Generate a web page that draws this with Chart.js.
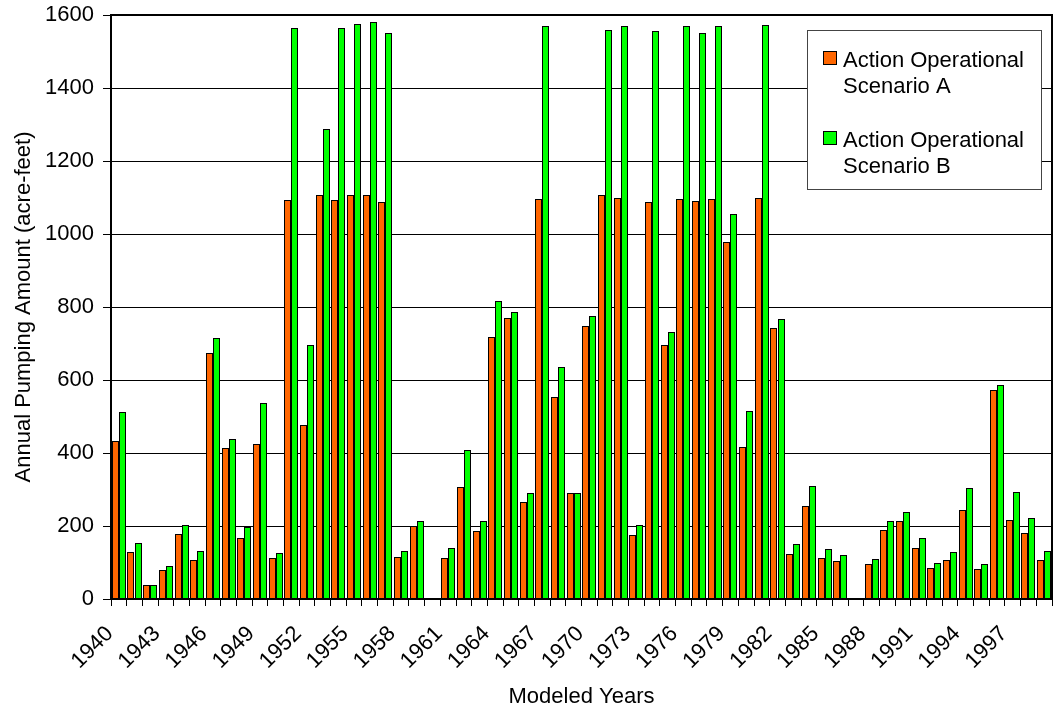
<!DOCTYPE html>
<html>
<head>
<meta charset="utf-8">
<title>Annual Pumping Amount</title>
<script src="https://cdn.jsdelivr.net/npm/chart.js@4.4.1/dist/chart.umd.min.js"></script>
<style>
  html, body { margin: 0; padding: 0; background: #fff; }
  #wrap { width: 1056px; height: 710px; position: relative; }
</style>
</head>
<body>
<div id="wrap"><canvas id="chart" width="1056" height="710"></canvas></div>
<script>
// Modeled years (one bar pair per year)
const years = [
  '1940','1941','1942','1943','1944','1945','1946','1947','1948','1949',
  '1950','1951','1952','1953','1954','1955','1956','1957','1958','1959',
  '1960','1961','1962','1963','1964','1965','1966','1967','1968','1969',
  '1970','1971','1972','1973','1974','1975','1976','1977','1978','1979',
  '1980','1981','1982','1983','1984','1985','1986','1987','1988','1989',
  '1990','1991','1992','1993','1994','1995','1996','1997','1998','1999'
];

// Years that carry a label on the category axis
const labeledYears = [
  '1940','1943','1946','1949','1952','1955','1958','1961','1964','1967',
  '1970','1973','1976','1979','1982','1985','1988','1991','1994','1997'
];

// Annual pumping, acre-feet — Scenario A
const scenarioA = [
  432, 128,  37,  79, 177, 108, 673, 413, 166, 424,
  112,1094, 476,1108,1092,1108,1108,1087, 116, 199,
    0, 113, 306, 186, 718, 769, 265,1096, 553, 291,
  747,1108,1098, 175,1089, 696,1097,1090,1097, 978,
  416,1099, 743, 124, 256, 112, 105,   0,  96, 189,
  213, 141,  85, 106, 245,  83, 573, 217, 182, 108
];

// Annual pumping, acre-feet — Scenario B
const scenarioB = [
  512, 153,  37,  91, 202, 132, 716, 438, 197, 538,
  126,1565, 697,1289,1565,1575,1580,1550, 132, 213,
    0, 139, 408, 213, 816, 786, 291,1570, 635, 291,
  775,1559,1571, 202,1557, 732,1570,1550,1570,1054,
  516,1572, 766, 150, 310, 137, 120,   0, 110, 213,
  239, 166,  98, 130, 303,  97, 587, 293, 222, 131
];

// Legend text, split over two lines per series
const legendLines = [
  ['Action Operational', 'Scenario A'],
  ['Action Operational', 'Scenario B']
];

const seriesColors = ['#FF6600', '#00FF00'];

const FONT = "'Liberation Sans', Arial, Helvetica, sans-serif";
Chart.defaults.font.family = FONT;
Chart.defaults.color = '#000';

// Snap bar edges to whole pixels so every 1px outline renders evenly
const crispBars = {
  id: 'crispBars',
  beforeDatasetsDraw(chart) {
    chart.data.datasets.forEach((ds, i) => {
      chart.getDatasetMeta(i).data.forEach((bar) => {
        const w = Math.round(bar.width);
        const left = Math.round(bar.x - bar.width / 2);
        bar.width = w;
        bar.x = left + w / 2;
        bar.y = Math.round(bar.y);
        bar.base = Math.round(bar.base);
      });
    });
  }
};

// Heavy frame around the plotting area
const plotFrame = {
  id: 'plotFrame',
  afterDatasetsDraw(chart) {
    const { ctx, chartArea: a } = chart;
    ctx.save();
    ctx.strokeStyle = '#000';
    ctx.lineWidth = 2;
    ctx.strokeRect(a.left, a.top, a.right - a.left, a.bottom - a.top);
    ctx.restore();
  }
};

// Boxed legend in the upper right of the plot
const boxedLegend = {
  id: 'boxedLegend',
  afterDraw(chart) {
    const { ctx, chartArea: a } = chart;
    const x = Math.round(a.right - 245), y = Math.round(a.top + 15), w = 234, h = 159;
    ctx.save();
    ctx.fillStyle = '#fff';
    ctx.fillRect(x, y, w, h);
    ctx.strokeStyle = '#444';
    ctx.lineWidth = 1;
    ctx.strokeRect(x + 0.5, y + 0.5, w, h);
    ctx.font = '22px ' + FONT;
    ctx.textBaseline = 'alphabetic';
    chart.data.datasets.forEach((ds, i) => {
      const top = y + 21 + i * 80;
      ctx.fillStyle = ds.backgroundColor;
      ctx.fillRect(x + 16.5, top + 0.5, 13, 13);
      ctx.strokeStyle = '#000';
      ctx.strokeRect(x + 16.5, top + 0.5, 13, 13);
      ctx.fillStyle = '#000';
      legendLines[i].forEach((t, j) => ctx.fillText(t, x + 36, top + 16 + j * 26));
    });
    ctx.restore();
  }
};

new Chart(document.getElementById('chart'), {
  type: 'bar',
  data: {
    labels: years,
    datasets: [
      {
        label: legendLines[0].join(' '),
        data: scenarioA,
        backgroundColor: seriesColors[0],
        borderColor: '#000',
        borderWidth: 1,
        categoryPercentage: 0.9,
        barPercentage: 1.0
      },
      {
        label: legendLines[1].join(' '),
        data: scenarioB,
        backgroundColor: seriesColors[1],
        borderColor: '#000',
        borderWidth: 1,
        categoryPercentage: 0.9,
        barPercentage: 1.0
      }
    ]
  },
  options: {
    responsive: false,
    animation: false,
    devicePixelRatio: 1,
    layout: { padding: { top: 15, right: 4, left: 0, bottom: 0 } },
    plugins: {
      legend: { display: false },
      tooltip: { enabled: false }
    },
    scales: {
      x: {
        offset: true,
        grid: {
          offset: true,
          drawOnChartArea: false,
          drawTicks: true,
          tickLength: 7,
          color: '#000',
          lineWidth: 1
        },
        border: { display: true, color: '#000', width: 2 },
        ticks: {
          autoSkip: false,
          minRotation: 45,
          maxRotation: 45,
          padding: 15,
          labelOffset: -9,
          color: '#000',
          font: { size: 22 },
          callback: function (value) {
            const y = this.getLabelForValue(value);
            return labeledYears.includes(y) ? y : '';
          }
        },
        title: {
          display: true,
          text: 'Modeled Years',
          color: '#000',
          font: { size: 22 },
          padding: { top: 0, bottom: 0 }
        },
        afterFit: (scale) => {
          scale.height = 111;
          scale.paddingLeft = 0;
          scale.paddingRight = 0;
        }
      },
      y: {
        min: 0,
        max: 1600,
        ticks: {
          stepSize: 200,
          padding: 9,
          color: '#000',
          font: { size: 22 },
          callback: (v) => String(v)
        },
        grid: {
          color: '#000',
          lineWidth: 1,
          drawTicks: true,
          tickLength: 8
        },
        border: { display: true, color: '#000', width: 2 },
        title: {
          display: true,
          text: 'Annual Pumping Amount (acre-feet)',
          color: '#000',
          font: { size: 22 },
          padding: { top: 11, bottom: 0 }
        },
        afterFit: (scale) => {
          scale.width = 111;
          scale.paddingTop = 0;
          scale.paddingBottom = 0;
        }
      }
    }
  },
  plugins: [crispBars, plotFrame, boxedLegend]
});
</script>
</body>
</html>
